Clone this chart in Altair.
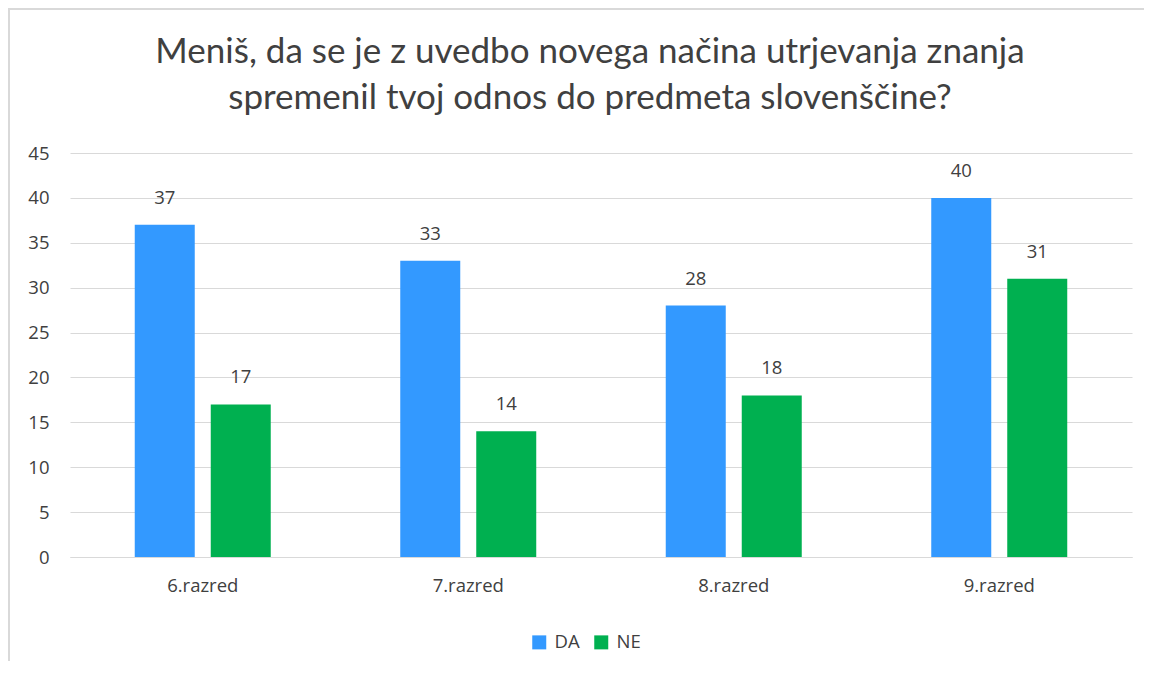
import altair as alt
import pandas as pd

categories = ["6.razred", "7.razred", "8.razred", "9.razred"]
series = ["DA", "NE"]
da_values = [37, 33, 28, 40]
ne_values = [17, 14, 18, 31]
title_lines = ["Meniš, da se je z uvedbo novega načina utrjevanja znanja",
               "spremenil tvoj odnos do predmeta slovenščine?"]
y_ticks = [0, 5, 10, 15, 20, 25, 30, 35, 40, 45]

rows = []
for c, a, b in zip(categories, da_values, ne_values):
    rows.append({"razred": c, "odgovor": "DA", "vrednost": a})
    rows.append({"razred": c, "odgovor": "NE", "vrednost": b})
df = pd.DataFrame(rows)

TEXT = "#404040"
FONT = "Open Sans"
FS = 18.5
W, H = 1062, 404

x = alt.X("razred:N", sort=categories, title=None,
          scale=alt.Scale(paddingInner=0, paddingOuter=0),
          axis=alt.Axis(labelAngle=0, labelPadding=19, ticks=False, domain=True,
                        domainColor="#D9D9D9", labelFont=FONT, labelFontSize=FS,
                        labelColor=TEXT))
xo = alt.XOffset("odgovor:N", sort=series,
                 scale=alt.Scale(paddingInner=0.2105, paddingOuter=0.852))
y = alt.Y("vrednost:Q", title=None,
          scale=alt.Scale(domain=[0, 45], nice=False),
          axis=alt.Axis(values=y_ticks, grid=True, gridColor="#D9D9D9", domain=False,
                        ticks=False, labelPadding=21, labelFont=FONT, labelFontSize=FS,
                        labelColor=TEXT))
color = alt.Color("odgovor:N", sort=series,
                  scale=alt.Scale(domain=series, range=["#3399FF", "#00B050"]),
                  legend=alt.Legend(title=None, orient="none", direction="horizontal",
                                    legendX=460, legendY=480, symbolType="square",
                                    symbolSize=196, symbolStrokeWidth=0,
                                    labelFont=FONT, labelFontSize=FS, labelColor=TEXT,
                                    columnPadding=12, labelOffset=6))

base = alt.Chart(df)
bars = base.mark_bar().encode(x=x, xOffset=xo, y=y, color=color)
labels = base.mark_text(baseline="bottom", dy=-17, font=FONT, fontSize=FS,
                        color=TEXT).encode(x=x, xOffset=xo, y=y, text="vrednost:Q")

one = pd.DataFrame({"k": [0]})
frame_top = alt.Chart(one).mark_rule(color="#D9D9D9", strokeWidth=2).encode(
    x=alt.value(-62), x2=alt.value(W + 12), y=alt.value(-144))
frame_left = alt.Chart(one).mark_rule(color="#D9D9D9", strokeWidth=2).encode(
    x=alt.value(-61), y=alt.value(-145), y2=alt.value(H + 110))
title = alt.Chart(one).mark_text(
    text=title_lines, font="Lato", fontSize=35, color=TEXT, align="center",
    baseline="alphabetic", lineHeight=46).encode(
    x=alt.value(W / 2 - 11), y=alt.value(-90))

chart = alt.layer(frame_top, frame_left, title, bars, labels).properties(
    width=W, height=H,
    autosize=alt.AutoSizeParams(type="none"),
    padding={"left": 62, "top": 145, "right": 12, "bottom": 104},
).configure(background="white").configure_view(stroke=None)

chart.save("out.html", embed_options={"renderer": "svg", "actions": False})
